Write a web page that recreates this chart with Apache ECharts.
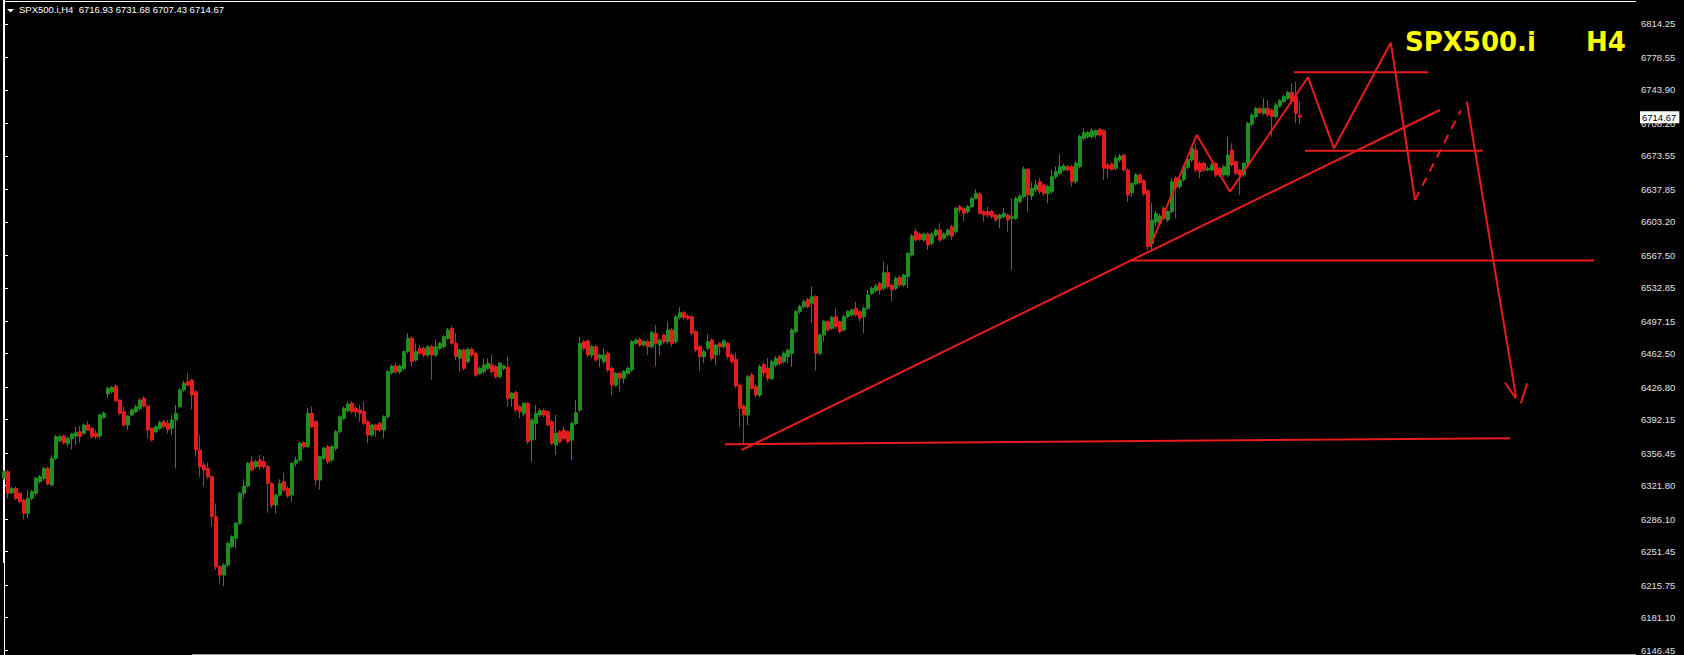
<!DOCTYPE html>
<html>
<head>
<meta charset="utf-8">
<script src="https://cdn.jsdelivr.net/npm/echarts@6/dist/echarts.min.js"></script>
<style>
html,body{margin:0;padding:0;background:#000;}
#chart{width:1684px;height:655px;}
</style>
</head>
<body>
<div id="chart"></div>
<script>
// ---- data ----
const symbol = 'SPX500.i';
const timeframe = 'H4';
// candles: [open, close, low, high]
const candles = [
[6329.6,6336.7,6327.8,6338.5],[6336.7,6313.5,6308.2,6338.5],[6314.3,6318.9,6312.5,6320.7],[6318.9,6308.2,6306.4,6320.7],
[6313.5,6304.7,6302.9,6315.3],[6306.4,6292.2,6285.8,6308.0],[6292.2,6308.2,6286.9,6317.1],[6308.2,6315.3,6306.0,6317.0],
[6313.5,6329.6,6311.0,6331.0],[6326.0,6331.3,6324.0,6333.0],[6329.6,6340.2,6327.0,6342.0],[6340.2,6323.5,6322.0,6342.0],
[6322.4,6350.9,6321.0,6354.4],[6350.9,6374.0,6349.0,6376.0],[6369.7,6374.0,6368.0,6376.0],[6374.7,6367.6,6366.0,6376.0],
[6366.9,6372.2,6363.3,6374.0],[6372.2,6376.9,6360.5,6378.0],[6374.7,6378.3,6365.1,6384.7],[6379.3,6374.0,6367.6,6385.4],
[6377.6,6386.5,6376.0,6388.0],[6386.5,6381.1,6380.0,6390.7],[6382.9,6374.0,6372.0,6384.0],[6377.6,6374.0,6371.2,6381.1],
[6374.7,6397.1,6372.0,6399.0],[6394.6,6398.9,6393.0,6401.0],[6419.5,6425.6,6414.9,6427.3],[6422.0,6426.6,6420.0,6428.0],
[6428.0,6412.4,6411.0,6430.0],[6413.1,6398.9,6397.0,6414.0],[6400.7,6386.5,6384.7,6406.0],[6386.5,6396.0,6381.1,6397.0],
[6397.1,6402.5,6396.0,6404.0],[6400.7,6406.0,6399.0,6408.0],[6404.2,6413.1,6402.0,6415.0],[6414.9,6406.7,6405.0,6417.0],
[6406.7,6381.1,6372.2,6408.0],[6382.9,6370.5,6369.0,6384.0],[6379.3,6384.7,6378.0,6386.0],[6382.9,6389.0,6381.0,6391.0],
[6390.0,6384.7,6383.0,6392.0],[6388.2,6381.8,6377.6,6391.8],[6382.9,6391.8,6375.8,6397.1],[6391.8,6398.9,6340.2,6407.8],
[6406.0,6423.8,6404.0,6426.0],[6423.8,6430.9,6422.0,6433.7],[6432.7,6429.1,6427.4,6441.6],[6434.5,6418.5,6403.2,6436.0],
[6422.0,6359.8,6352.7,6424.0],[6359.8,6342.0,6331.3,6375.8],[6343.8,6338.5,6320.7,6347.3],[6340.2,6331.3,6329.0,6346.3],
[6331.3,6288.7,6278.0,6333.0],[6288.7,6235.3,6231.8,6302.9],[6235.3,6226.4,6217.5,6237.0],[6226.4,6237.1,6214.7,6239.0],
[6237.1,6260.2,6235.0,6262.0],[6256.7,6267.3,6255.0,6269.0],[6265.6,6281.6,6254.9,6283.0],[6281.6,6313.6,6280.0,6315.0],
[6313.6,6321.4,6308.2,6328.5],[6321.4,6345.6,6320.0,6347.0],[6347.3,6338.5,6337.0,6353.4],[6342.0,6347.3,6340.0,6349.0],
[6349.1,6342.0,6338.5,6354.5],[6347.3,6342.0,6340.0,6353.4],[6342.0,6324.2,6292.9,6344.0],[6324.2,6301.1,6297.6,6326.0],
[6301.1,6311.8,6292.2,6313.0],[6311.8,6324.2,6310.0,6328.5],[6326.0,6317.1,6315.0,6335.6],[6318.9,6310.7,6309.0,6321.0],
[6311.8,6345.6,6304.7,6347.0],[6345.6,6349.1,6342.0,6352.7],[6349.1,6366.9,6347.0,6369.0],[6367.6,6363.3,6361.0,6369.0],
[6363.3,6398.9,6362.0,6404.2],[6398.9,6384.7,6383.0,6406.0],[6390.0,6327.8,6322.0,6392.0],[6327.8,6352.7,6318.0,6354.0],
[6350.9,6361.6,6349.0,6363.0],[6363.3,6347.3,6345.0,6365.0],[6349.1,6363.3,6347.0,6365.0],[6361.6,6379.3,6359.0,6381.0],
[6379.3,6395.4,6377.0,6397.0],[6393.6,6404.2,6392.0,6406.0],[6401.8,6408.9,6400.0,6411.0],[6409.6,6400.7,6399.0,6412.0],
[6404.2,6400.7,6395.4,6406.0],[6402.5,6398.9,6390.0,6407.8],[6400.7,6388.2,6386.0,6411.4],[6390.0,6375.8,6366.9,6392.0],
[6375.8,6386.5,6374.0,6388.0],[6386.5,6381.1,6374.0,6388.0],[6388.2,6381.1,6379.0,6390.0],[6381.1,6395.4,6372.2,6397.0],
[6395.4,6443.4,6393.0,6445.0],[6442.3,6449.4,6440.0,6451.0],[6449.4,6443.4,6441.0,6453.0],[6443.4,6449.4,6441.0,6451.0],
[6446.9,6464.7,6445.0,6466.0],[6464.7,6478.9,6463.0,6484.3],[6478.9,6454.0,6448.7,6481.0],[6455.8,6464.7,6454.0,6473.6],
[6468.3,6462.9,6461.0,6471.8],[6468.3,6461.1,6459.0,6470.0],[6461.1,6470.0,6459.0,6472.0],[6470.0,6461.1,6434.5,6472.0],
[6461.1,6470.0,6459.0,6477.1],[6468.3,6473.6,6466.0,6475.0],[6470.0,6480.7,6468.0,6482.0],[6478.9,6487.8,6477.0,6490.0],
[6489.6,6473.6,6472.0,6492.0],[6473.6,6459.4,6455.8,6484.3],[6457.6,6466.5,6443.4,6468.0],[6466.5,6446.9,6445.0,6468.0],
[6454.0,6467.2,6452.0,6469.0],[6467.2,6461.1,6459.0,6469.0],[6462.9,6439.8,6438.0,6465.0],[6441.6,6446.9,6440.0,6449.0],
[6443.4,6450.5,6441.0,6457.6],[6446.9,6452.3,6445.0,6457.6],[6450.5,6443.4,6441.0,6461.1],[6448.7,6438.0,6436.0,6450.5],
[6438.0,6452.3,6436.0,6454.0],[6446.9,6449.4,6445.0,6451.0],[6448.0,6414.9,6406.0,6459.4],[6414.9,6420.3,6406.0,6422.0],
[6421.0,6402.5,6400.0,6423.0],[6406.0,6400.7,6393.6,6408.0],[6398.9,6409.6,6395.4,6411.0],[6409.6,6368.7,6366.0,6411.0],
[6370.5,6391.8,6347.3,6394.0],[6388.2,6398.9,6370.5,6407.8],[6397.1,6401.8,6395.0,6404.0],[6401.8,6397.1,6395.0,6404.0],
[6400.7,6386.5,6385.0,6402.0],[6390.0,6366.9,6365.0,6392.0],[6365.1,6377.6,6354.5,6397.1],[6379.3,6368.7,6367.0,6381.0],
[6381.1,6372.2,6370.0,6384.7],[6379.3,6368.7,6367.0,6381.0],[6370.5,6388.2,6349.1,6390.0],[6388.2,6399.6,6386.0,6413.1],
[6402.5,6473.6,6400.0,6480.7],[6475.4,6468.3,6466.0,6477.0],[6476.1,6461.1,6459.0,6478.0],[6461.1,6470.0,6458.0,6472.0],
[6470.0,6455.8,6454.0,6472.0],[6457.6,6461.1,6448.0,6463.0],[6454.0,6461.1,6452.0,6468.3],[6462.9,6445.1,6443.0,6465.0],
[6446.9,6429.1,6418.5,6449.0],[6429.1,6441.6,6427.0,6443.0],[6441.6,6436.3,6422.0,6443.0],[6436.3,6443.4,6430.9,6445.0],
[6441.6,6446.9,6440.0,6449.0],[6445.1,6475.4,6443.0,6477.0],[6473.6,6477.1,6472.0,6479.0],[6477.8,6471.8,6470.0,6480.0],
[6471.8,6475.4,6470.0,6477.0],[6475.4,6470.0,6461.1,6477.0],[6470.0,6485.0,6468.0,6487.0],[6484.3,6473.6,6448.7,6493.2],
[6471.8,6477.1,6461.1,6479.0],[6482.5,6475.4,6473.0,6484.0],[6475.4,6487.8,6473.0,6496.7],[6487.8,6473.6,6470.0,6490.0],
[6475.4,6502.0,6473.0,6504.0],[6501.3,6506.3,6499.0,6512.0],[6506.3,6501.3,6499.0,6508.0],[6502.7,6500.3,6498.0,6505.0],
[6502.0,6484.3,6482.0,6504.0],[6486.0,6466.5,6464.0,6488.0],[6470.0,6459.4,6444.4,6472.0],[6459.4,6464.7,6452.3,6467.0],
[6468.3,6475.4,6466.0,6483.5],[6477.1,6457.6,6455.0,6479.0],[6461.1,6471.8,6450.5,6473.0],[6473.6,6470.0,6461.1,6475.0],
[6470.0,6476.1,6468.0,6478.0],[6473.6,6459.4,6457.0,6475.0],[6461.1,6454.0,6452.0,6463.0],[6456.5,6428.1,6426.0,6463.6],
[6429.1,6404.2,6384.7,6431.0],[6406.7,6397.1,6366.0,6409.0],[6397.1,6438.0,6386.5,6440.0],[6439.8,6425.6,6424.0,6442.0],
[6427.4,6418.5,6416.0,6430.0],[6418.5,6448.7,6416.0,6451.0],[6451.0,6442.0,6438.0,6454.0],[6447.0,6436.0,6433.0,6457.6],
[6436.0,6454.0,6434.0,6456.0],[6450.5,6457.6,6448.0,6460.0],[6459.4,6452.3,6450.0,6461.0],[6454.0,6462.9,6452.0,6465.0],
[6459.4,6466.5,6452.3,6468.0],[6462.9,6487.8,6448.7,6490.0],[6486.0,6507.4,6484.0,6509.0],[6507.4,6512.7,6505.0,6515.0],
[6512.7,6518.0,6511.0,6520.0],[6520.5,6512.7,6511.0,6522.0],[6516.3,6523.4,6494.9,6534.0],[6523.4,6462.9,6444.4,6525.0],
[6462.9,6482.5,6461.0,6484.0],[6482.5,6496.7,6475.4,6498.5],[6496.7,6487.8,6486.0,6498.0],[6489.6,6501.3,6488.0,6503.0],
[6502.0,6491.4,6489.0,6510.9],[6496.7,6486.0,6484.0,6498.0],[6487.8,6502.0,6486.0,6504.0],[6502.0,6507.4,6500.0,6509.0],
[6503.8,6509.2,6502.0,6511.0],[6510.9,6503.8,6502.0,6518.0],[6507.4,6500.3,6496.7,6509.0],[6502.0,6510.9,6484.3,6513.0],
[6510.9,6525.2,6509.0,6530.5],[6526.9,6532.3,6525.0,6534.0],[6529.8,6534.8,6528.0,6537.0],[6537.6,6530.5,6525.2,6539.0],
[6532.3,6549.0,6530.0,6560.7],[6549.0,6534.0,6532.0,6557.2],[6535.8,6530.5,6518.0,6537.6],[6532.3,6542.9,6530.5,6545.0],
[6544.0,6535.8,6534.0,6546.0],[6535.8,6546.5,6534.0,6548.0],[6544.7,6569.6,6532.3,6571.0],[6567.8,6588.1,6566.0,6590.0],
[6592.7,6583.8,6582.0,6596.3],[6590.2,6584.5,6583.0,6592.0],[6583.8,6590.2,6582.0,6592.0],[6590.2,6578.5,6573.2,6592.0],
[6580.3,6590.2,6578.0,6592.0],[6589.2,6594.5,6587.0,6596.0],[6594.5,6583.8,6582.0,6601.6],[6585.6,6590.2,6584.0,6592.0],
[6589.2,6594.5,6587.0,6596.0],[6598.0,6588.1,6583.8,6600.0],[6592.7,6617.6,6591.0,6619.0],[6619.4,6615.8,6612.3,6621.0],
[6617.6,6612.3,6603.4,6619.0],[6614.1,6619.4,6612.0,6621.0],[6619.4,6628.3,6618.0,6630.0],[6628.3,6633.6,6627.0,6637.9],
[6632.9,6612.3,6611.0,6635.0],[6614.1,6610.5,6603.4,6616.0],[6614.1,6610.5,6608.0,6619.4],[6614.1,6608.7,6607.0,6615.8],
[6610.5,6605.2,6603.0,6612.0],[6606.9,6610.5,6596.3,6612.0],[6608.7,6612.3,6607.0,6617.6],[6610.5,6605.2,6592.7,6612.0],
[6606.9,6608.7,6551.8,6628.3],[6606.9,6628.3,6605.0,6630.0],[6624.8,6630.8,6623.0,6633.0],[6630.1,6659.2,6628.0,6662.0],
[6659.2,6632.0,6614.0,6661.0],[6630.8,6638.9,6626.5,6646.0],[6637.2,6642.5,6635.0,6647.8],[6646.0,6635.4,6633.0,6649.6],
[6642.5,6633.6,6631.0,6644.0],[6633.6,6640.7,6622.9,6643.0],[6635.4,6651.4,6633.0,6658.5],[6651.4,6656.7,6649.0,6662.0],
[6654.9,6662.0,6653.0,6675.2],[6658.5,6662.8,6657.0,6665.0],[6662.0,6658.5,6657.0,6664.0],[6662.0,6646.0,6640.7,6664.0],
[6646.0,6665.6,6644.0,6668.0],[6662.0,6694.0,6660.0,6696.0],[6692.3,6698.3,6690.0,6702.9],[6694.0,6698.3,6692.0,6700.0],
[6694.0,6700.4,6692.0,6703.0],[6695.8,6700.4,6692.3,6701.9],[6701.9,6695.8,6694.0,6703.0],[6700.4,6660.3,6647.8,6702.0],
[6663.8,6660.3,6649.6,6666.0],[6664.9,6659.2,6658.0,6667.0],[6660.3,6670.9,6658.0,6674.5],[6669.2,6673.4,6667.0,6676.0],
[6674.5,6658.5,6657.0,6676.0],[6658.5,6631.8,6624.7,6660.0],[6634.3,6644.3,6630.0,6646.0],[6643.6,6653.2,6642.0,6655.0],
[6653.2,6645.0,6643.0,6655.0],[6647.1,6632.9,6631.0,6649.0],[6636.4,6576.7,6573.0,6638.0],[6580.0,6605.0,6573.8,6622.9],
[6603.0,6612.0,6598.0,6615.0],[6601.6,6609.4,6599.0,6612.0],[6617.6,6606.9,6605.0,6620.0],[6605.2,6614.1,6603.0,6616.0],
[6614.1,6646.0,6612.0,6650.0],[6650.0,6640.0,6606.9,6652.0],[6640.7,6647.8,6638.0,6650.0],[6648.5,6662.0,6646.0,6664.0],
[6661.3,6669.9,6659.0,6672.0],[6669.2,6681.6,6667.0,6685.2],[6679.8,6658.5,6656.0,6686.9],[6665.6,6656.7,6649.6,6668.0],
[6665.6,6658.5,6656.0,6667.0],[6658.5,6660.0,6657.0,6662.0],[6658.5,6663.8,6657.0,6666.0],[6665.6,6653.2,6651.0,6667.0],
[6660.3,6653.2,6651.0,6662.0],[6653.2,6662.0,6651.0,6664.0],[6653.2,6674.5,6651.0,6694.0],[6679.8,6663.8,6662.0,6686.9],
[6667.4,6654.9,6653.0,6669.0],[6658.5,6653.2,6631.8,6660.0],[6653.2,6665.6,6651.0,6667.0],[6665.6,6708.3,6663.0,6710.0],
[6707.2,6717.2,6705.0,6719.0],[6715.4,6724.3,6713.0,6726.0],[6723.9,6719.6,6718.0,6726.0],[6718.9,6724.3,6717.0,6734.9],
[6724.3,6717.2,6715.4,6733.2],[6722.5,6715.4,6694.0,6724.0],[6715.4,6727.8,6713.0,6730.0],[6726.8,6732.5,6725.0,6734.0],
[6731.4,6736.7,6730.0,6738.5],[6735.0,6741.0,6733.0,6743.0],[6741.0,6731.4,6729.0,6751.0],[6736.7,6718.9,6708.3,6752.7],
[6716.93,6714.67,6707.43,6731.68]
];
const totalSlots = 408; // bar slots on the time axis (incl. empty future area)
const yTickLabels = [6814.25,6778.55,6743.90,6708.20,6673.55,6637.85,6603.20,6567.50,6532.85,6497.15,
  6462.50,6426.80,6392.15,6356.45,6321.80,6286.10,6251.45,6215.75,6181.10,6146.45];
const yMin = 6141.12, yMax = 6839.85;

// hand-drawn analysis lines: [barIndex, price]
const supportLow   = [[180.25, 6365.9], [376.5, 6372.3]];
const trendLine    = [[184.4, 6359.8], [359.0, 6722.5]];
const midLevel     = [[281.75, 6562.0], [397.5, 6562.0]];
const topLevel     = [[322.5, 6762.7], [356.1, 6762.7]];
const neckLevel    = [[325.25, 6679.0], [369.7, 6679.0]];
const zigzag       = [[286.5, 6576.7], [298.2, 6695.8], [306.5, 6635.4], [326.0, 6757.5],
                      [332.5, 6681.6], [346.7, 6794.3], [352.75, 6626.5]];
const dashedLeg    = [[352.75, 6626.5], [364.2, 6722.0]];
const arrowShaft   = [[365.7, 6731.4], [378.0, 6416.7]];
const arrowHeadL   = [[375.25, 6431.6], [378.0, 6414.9]];
const arrowHeadR   = [[380.8, 6430.9], [379.2, 6409.6]];

// ---- chart ----
const last = candles[candles.length - 1];
const headerText = symbol + ',' + timeframe + '  ' +
  [last[0], last[3], last[2], last[1]].map(v => v.toFixed(2)).join(' ');
const categories = Array.from({length: totalSlots}, (_, i) => String(i + 1));

const RED = '#e81c1c';
function drawLine(data, dashed) {
  return {
    type: 'line', xAxisIndex: 1, yAxisIndex: 0, data: data,
    symbol: 'none', silent: true, z: 5, animation: false,
    lineStyle: {color: RED, width: 2, type: dashed ? [9, 7] : 'solid'}
  };
}

const chart = echarts.init(document.getElementById('chart'), null, {renderer: 'svg'});
chart.setOption({
  backgroundColor: '#000',
  animation: false,
  title: [
    {text: headerText, left: 19, top: 4, padding: 0,
     textStyle: {color: '#ffffff', fontSize: 9.5, fontWeight: 'normal', fontFamily: 'Liberation Sans'}},
    {text: symbol, left: 1405, top: 29, padding: 0,
     textStyle: {color: '#ffff00', fontSize: 26, fontWeight: 'bold', fontFamily: 'DejaVu Sans'}},
    {text: timeframe, left: 1586, top: 29, padding: 0,
     textStyle: {color: '#ffff00', fontSize: 26, fontWeight: 'bold', fontFamily: 'DejaVu Sans'}}
  ],
  grid: {left: 2, top: 0, width: 1632, bottom: 0, containLabel: false},
  xAxis: [
    {type: 'category', data: categories, show: false, boundaryGap: true},
    {type: 'value', min: -0.5, max: totalSlots - 0.5, show: false}
  ],
  yAxis: [
    {type: 'value', position: 'right', offset: 2, min: yMin, max: yMax, scale: true,
     axisLine: {show: true, lineStyle: {color: '#ffffff', width: 1}},
     axisTick: {show: true, length: 4, inside: false, customValues: yTickLabels, lineStyle: {color: '#ffffff'}},
     axisLabel: {show: true, customValues: yTickLabels, margin: 5, color: '#e0e0e0', fontSize: 9.5,
                 fontFamily: 'Liberation Sans', formatter: v => v.toFixed(2)},
     splitLine: {show: false}},
    {type: 'value', position: 'right', offset: 2, min: yMin, max: yMax, scale: true, z: 10,
     axisLine: {show: false}, axisTick: {show: false}, splitLine: {show: false},
     axisLabel: {show: true, customValues: [last[1]], margin: 4, color: '#000', backgroundColor: '#ffffff',
                 padding: [1, 3, 1, 2], fontSize: 9.5, fontFamily: 'Liberation Sans', formatter: v => v.toFixed(2)}}
  ],
  series: [
    {type: 'candlestick', xAxisIndex: 0, yAxisIndex: 0, data: candles, barWidth: 2.6, z: 2,
     itemStyle: {color: '#1f901f', color0: '#e21d1d', borderColor: '#1f901f', borderColor0: '#e21d1d', borderWidth: 1}},
    drawLine(supportLow), drawLine(trendLine), drawLine(midLevel), drawLine(topLevel), drawLine(neckLevel),
    drawLine(zigzag), drawLine(dashedLeg, true), drawLine(arrowShaft), drawLine(arrowHeadL), drawLine(arrowHeadR)
  ],
  graphic: [
    {type: 'line', shape: {x1: 3.5, y1: 0, x2: 3.5, y2: 563}, style: {stroke: '#ffffff', lineWidth: 1}, silent: true},
    {type: 'line', shape: {x1: 3, y1: 1.5, x2: 1636, y2: 1.5}, style: {stroke: '#ffffff', lineWidth: 1}, silent: true},
    {type: 'line', shape: {x1: 192, y1: 654.5, x2: 1636, y2: 654.5}, style: {stroke: '#9a9a9a', lineWidth: 1}, silent: true},
    {type: 'polygon', shape: {points: [[7, 9], [14, 9], [10.5, 12.5]]}, style: {fill: '#ffffff'}, silent: true}
  ]
});
</script>
</body>
</html>
